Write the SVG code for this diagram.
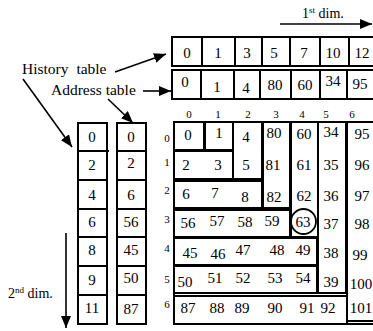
<svg xmlns="http://www.w3.org/2000/svg" width="373" height="331" viewBox="0 0 373 331" font-family="'Liberation Serif', 'DejaVu Serif', serif">
<style>
text{font-family:"Liberation Serif","DejaVu Serif",serif;fill:#000}
.n{font-size:15px;text-anchor:middle}
.i{font-size:11px;text-anchor:middle}
.l{font-size:15.5px}
.d{font-size:14px}
.b{fill:#fff;stroke:#000;stroke-width:2}
.c{fill:none;stroke:#000;stroke-width:1.6}
</style>
<defs>
<marker id="ah" markerUnits="userSpaceOnUse" markerWidth="12" markerHeight="10" refX="12" refY="5" orient="auto">
<path d="M0,0 L12,5 L0,10 Z" fill="#000"/>
</marker>
</defs>
<rect width="373" height="331" fill="#fff"/>

<g id="connectors">
<line class="c" x1="280" y1="24" x2="372" y2="24" marker-end="url(#ah)"/>
<line class="c" x1="66" y1="233" x2="66" y2="328" marker-end="url(#ah)"/>
<line class="c" x1="115" y1="72" x2="166" y2="54" marker-end="url(#ah)"/>
<line class="c" x1="143" y1="91" x2="171" y2="91" marker-end="url(#ah)"/>
<line class="c" x1="23" y1="79" x2="72" y2="147" marker-end="url(#ah)"/>
<line class="c" x1="108" y1="99" x2="133" y2="123" marker-end="url(#ah)"/>
</g>

<g id="labels">
<text class="d" x="302" y="18">1<tspan font-size="9" dy="-5">st</tspan><tspan dy="5"> dim.</tspan></text>
<text class="d" x="8" y="298">2<tspan font-size="9" dy="-5">nd</tspan><tspan dy="5"> dim.</tspan></text>
<text class="l" x="22" y="74" word-spacing="4">History table</text>
<text class="l" x="51" y="95">Address table</text>
</g>

<g id="history-row">
<rect class="b" x="172" y="37" width="210" height="29"/>
<path d="M202,37V66M235,37V66M262,37V66M290,37V66M320,37V66M349,37V66" stroke="#000" stroke-width="2"/>
<text class="n" x="187" y="58">0</text>
<text class="n" x="218" y="58">1</text>
<text class="n" x="247" y="58">3</text>
<text class="n" x="274" y="58">5</text>
<text class="n" x="304" y="58">7</text>
<text class="n" x="333" y="58">10</text>
<text class="n" x="362" y="58">12</text>
</g>

<g id="address-row">
<rect class="b" x="172" y="70" width="210" height="29"/>
<path d="M201,70V99M234,70V99M260,70V99M291,70V99M320,70V99M347,70V99" stroke="#000" stroke-width="2"/>
<text class="n" x="185" y="87">0</text>
<text class="n" x="217" y="92">1</text>
<text class="n" x="246" y="93">4</text>
<text class="n" x="275" y="90">80</text>
<text class="n" x="305" y="90">60</text>
<text class="n" x="333" y="86">34</text>
<text class="n" x="360" y="89">95</text>
</g>

<g id="history-column">
<rect class="b" x="78" y="123" width="29" height="201"/>
<path d="M78,151H109M78,180H107M78,209H107M78,237H107M78,266H107M78,295H107" stroke="#000" stroke-width="2"/>
<text class="n" x="92" y="142">0</text>
<text class="n" x="92" y="170">2</text>
<text class="n" x="92" y="200">4</text>
<text class="n" x="92" y="227">6</text>
<text class="n" x="92" y="255">8</text>
<text class="n" x="92" y="285">9</text>
<text class="n" x="92" y="313">11</text>
</g>

<g id="address-column">
<rect class="b" x="117" y="123" width="29" height="201"/>
<path d="M117,151H146M117,180H146M117,209H146M117,237H146M117,266H146M117,295H146" stroke="#000" stroke-width="2"/>
<text class="n" x="131" y="142">0</text>
<text class="n" x="131" y="168">2</text>
<text class="n" x="131" y="200">6</text>
<text class="n" x="131" y="227">56</text>
<text class="n" x="131" y="255">45</text>
<text class="n" x="131" y="283">50</text>
<text class="n" x="131" y="314">87</text>
</g>

<g id="indices">
<text class="i" x="189" y="118">0</text>
<text class="i" x="218" y="118">1</text>
<text class="i" x="248" y="118">2</text>
<text class="i" x="276" y="118">3</text>
<text class="i" x="302" y="118">4</text>
<text class="i" x="326" y="118">5</text>
<text class="i" x="352" y="118">6</text>
<text class="i" x="167" y="142">0</text>
<text class="i" x="167" y="166">1</text>
<text class="i" x="167" y="194">2</text>
<text class="i" x="167" y="223">3</text>
<text class="i" x="167" y="252">4</text>
<text class="i" x="167" y="283">5</text>
<text class="i" x="167" y="308">6</text>
</g>

<g id="grid-outline"><rect class="b" x="174" y="122" width="206" height="202"/></g>

<g id="r0"><rect class="b" x="174" y="122" width="30" height="28"/><text class="n" x="188" y="140">0</text></g>
<g id="r1"><rect class="b" x="205" y="122" width="28" height="28"/><text class="n" x="219" y="138">1</text></g>
<g id="r2"><rect class="b" x="174" y="151" width="59" height="28"/><text class="n" x="186" y="170">2</text><text class="n" x="218" y="170">3</text></g>
<g id="r3"><rect class="b" x="233" y="122" width="29" height="57"/><text class="n" x="246" y="142">4</text><text class="n" x="246" y="170">5</text></g>
<g id="r4"><rect class="b" x="174" y="181" width="88" height="27"/><text class="n" x="186" y="199">6</text><text class="n" x="215" y="198">7</text><text class="n" x="245" y="202">8</text></g>
<g id="r5"><rect class="b" x="263" y="122" width="27" height="86"/><text class="n" x="274" y="138">80</text><text class="n" x="273" y="170">81</text><text class="n" x="274" y="202">82</text></g>
<g id="r6"><rect class="b" x="174" y="210" width="116" height="27"/><text class="n" x="188" y="228">56</text><text class="n" x="217" y="226">57</text><text class="n" x="245" y="227">58</text><text class="n" x="272" y="226">59</text></g>
<g id="r7"><rect class="b" x="291" y="122" width="27" height="115"/><text class="n" x="304" y="139">60</text><text class="n" x="304" y="170">61</text><text class="n" x="304" y="201">62</text><text class="n" x="303" y="227">63</text><circle cx="303.5" cy="221.5" r="12.5" fill="none" stroke="#000" stroke-width="1.8"/></g>
<g id="r8"><rect class="b" x="174" y="238" width="143" height="27"/><text class="n" x="190" y="258">45</text><text class="n" x="218" y="259">46</text><text class="n" x="243" y="255">47</text><text class="n" x="277" y="255">48</text><text class="n" x="303" y="255">49</text></g>
<g id="r9"><rect class="b" x="174" y="266" width="143" height="27"/><text class="n" x="185" y="287">50</text><text class="n" x="215" y="283">51</text><text class="n" x="243" y="283">52</text><text class="n" x="275" y="283">53</text><text class="n" x="303" y="283">54</text></g>
<g id="r10"><rect class="b" x="318" y="122" width="28" height="171"/><text class="n" x="331" y="137">34</text><text class="n" x="331" y="170">35</text><text class="n" x="331" y="201">36</text><text class="n" x="331" y="229">37</text><text class="n" x="331" y="258">38</text><text class="n" x="331" y="287">39</text></g>
<g id="r11"><rect class="b" x="174" y="296" width="173" height="28"/><text class="n" x="188" y="313">87</text><text class="n" x="217" y="313">88</text><text class="n" x="242" y="313">89</text><text class="n" x="275" y="313">90</text><text class="n" x="307" y="313">91</text><text class="n" x="328" y="313">92</text></g>
<g id="r12"><rect class="b" x="347" y="122" width="35" height="199"/><text class="n" x="362" y="139">95</text><text class="n" x="362" y="170">96</text><text class="n" x="362" y="201">97</text><text class="n" x="362" y="229">98</text><text class="n" x="360" y="260">99</text><text class="n" x="361" y="289">100</text><text class="n" x="361" y="313">101</text></g>
</svg>
